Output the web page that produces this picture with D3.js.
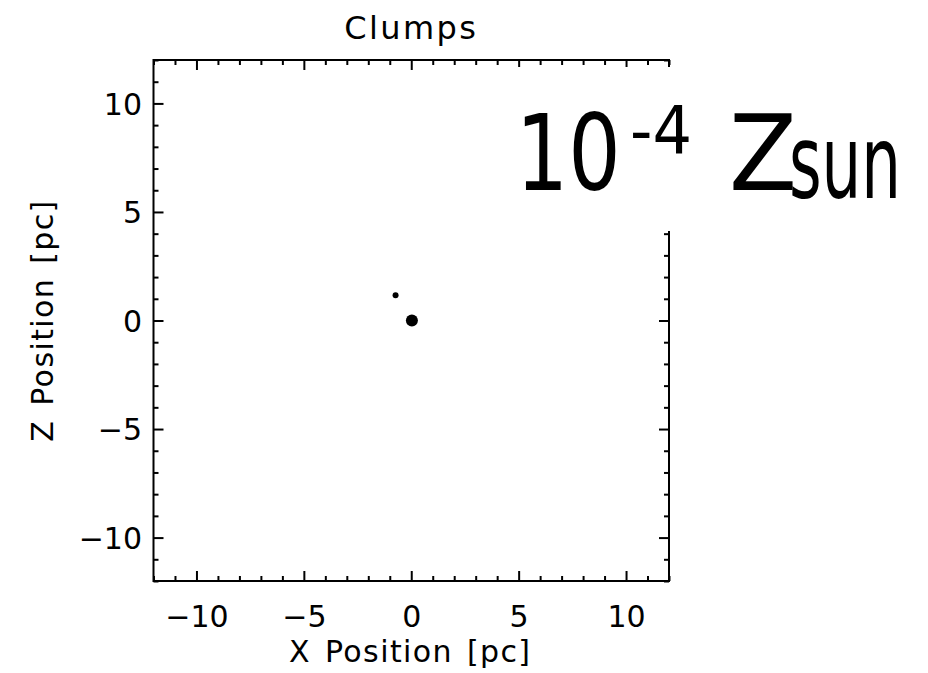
<!DOCTYPE html>
<html lang="en">
<head>
  <meta charset="UTF-8">
  <title>Clumps</title>
  <script src="https://d3js.org/d3.v7.min.js"></script>
  <style>
    body { margin: 0; background: #fff; }
    svg { display: block; }
    text { font-family: "DejaVu Sans", sans-serif; fill: #000; }
  </style>
</head>
<body>
  <svg id="chart" width="928" height="673"></svg>

  <script>
    // clump positions (pc) and relative masses
    const clumpX = [-0.73, 0.03];
    const clumpZ = [1.16, 0.0];
    const clumpMass = [0.25, 1.0];

    const majorTicks = [-10, -5, 0, 5, 10];
    const minorTicks = [-12, -11, -9, -8, -7, -6, -4, -3, -2, -1, 1, 2, 3, 4, 6, 7, 8, 9, 11, 12];

    const svg = d3.select("#chart");
    const plotL = 153.5, plotR = 669, plotT = 60, plotB = 581;

    const x = d3.scaleLinear().domain([-12, 12]).range([plotL, plotR]);
    const y = d3.scaleLinear().domain([-12, 12]).range([plotB, plotT]);
    const r = d3.scaleSqrt().domain([0, 1]).range([0, 6]);

    const fmt = d => d < 0 ? "\u2212" + Math.abs(d) : String(d);

    // helper to style an axis group
    function styleAxis(g) {
      g.select(".domain").remove();
      g.selectAll("line").attr("stroke", "#000").attr("stroke-width", 2);
      g.selectAll("text")
        .attr("font-family", "DejaVu Sans, sans-serif")
        .attr("font-size", 30)
        .attr("fill", "#000");
    }

    // major ticks with labels
    svg.append("g")
      .attr("transform", `translate(0,${plotB})`)
      .call(d3.axisBottom(x).tickValues(majorTicks).tickSize(-10).tickPadding(25).tickFormat(fmt))
      .call(styleAxis);

    svg.append("g")
      .attr("transform", `translate(${plotL},0)`)
      .call(d3.axisLeft(y).tickValues(majorTicks).tickSize(-10).tickPadding(11.5).tickFormat(fmt))
      .call(styleAxis)
      .selectAll("text").attr("dy", "0.36em");

    svg.append("g")
      .attr("transform", `translate(0,${plotT})`)
      .call(d3.axisTop(x).tickValues(majorTicks).tickSize(-10).tickFormat(""))
      .call(styleAxis);

    svg.append("g")
      .attr("transform", `translate(${plotR},0)`)
      .call(d3.axisRight(y).tickValues(majorTicks).tickSize(-10).tickFormat(""))
      .call(styleAxis);

    // minor ticks
    [[d3.axisBottom(x), `translate(0,${plotB})`],
     [d3.axisTop(x), `translate(0,${plotT})`],
     [d3.axisLeft(y), `translate(${plotL},0)`],
     [d3.axisRight(y), `translate(${plotR},0)`]].forEach(([ax, tr]) => {
      svg.append("g")
        .attr("transform", tr)
        .call(ax.tickValues(minorTicks).tickSize(-5).tickFormat(""))
        .call(styleAxis);
    });

    // frame
    svg.append("rect")
      .attr("x", plotL).attr("y", plotT)
      .attr("width", plotR - plotL).attr("height", plotB - plotT)
      .attr("fill", "none").attr("stroke", "#000").attr("stroke-width", 2);

    // clumps
    svg.append("g")
      .selectAll("circle")
      .data(clumpX)
      .join("circle")
      .attr("cx", d => x(d))
      .attr("cy", (d, i) => y(clumpZ[i]))
      .attr("r", (d, i) => r(clumpMass[i]))
      .attr("fill", "#000");

    // titles
    svg.append("text")
      .attr("x", x(0)).attr("y", 39)
      .attr("text-anchor", "middle")
      .attr("font-size", 32)
      .attr("letter-spacing", 2.4)
      .text("Clumps");

    svg.append("text")
      .attr("x", x(0) - 1).attr("y", 662)
      .attr("text-anchor", "middle")
      .attr("font-size", 30)
      .attr("letter-spacing", 1.4)
      .attr("word-spacing", 3)
      .text("X Position [pc]");

    svg.append("text")
      .attr("transform", `translate(53,${y(0)}) rotate(-90)`)
      .attr("text-anchor", "middle")
      .attr("font-size", 30)
      .attr("letter-spacing", 1.4)
      .attr("word-spacing", 3)
      .text("Z Position [pc]");

    // metallicity label on a white patch, squeezed horizontally like the original
    svg.append("rect")
      .attr("x", 505).attr("y", 67)
      .attr("width", 423).attr("height", 164)
      .attr("fill", "#fff");

    const lab = svg.append("g");
    lab.append("text")
      .attr("x", 515.7).attr("y", 190)
      .attr("font-size", 106)
      .attr("textLength", 105).attr("lengthAdjust", "spacingAndGlyphs")
      .text("10");
    lab.append("text")
      .attr("x", 630).attr("y", 153)
      .attr("font-size", 66)
      .attr("textLength", 62).attr("lengthAdjust", "spacingAndGlyphs")
      .text("-4");
    lab.append("text")
      .attr("x", 729).attr("y", 190)
      .attr("font-size", 106)
      .attr("textLength", 68).attr("lengthAdjust", "spacingAndGlyphs")
      .text("Z");
    lab.append("text")
      .attr("x", 789).attr("y", 198)
      .attr("font-size", 102)
      .attr("textLength", 112).attr("lengthAdjust", "spacingAndGlyphs")
      .text("sun");
  </script>
</body>
</html>
